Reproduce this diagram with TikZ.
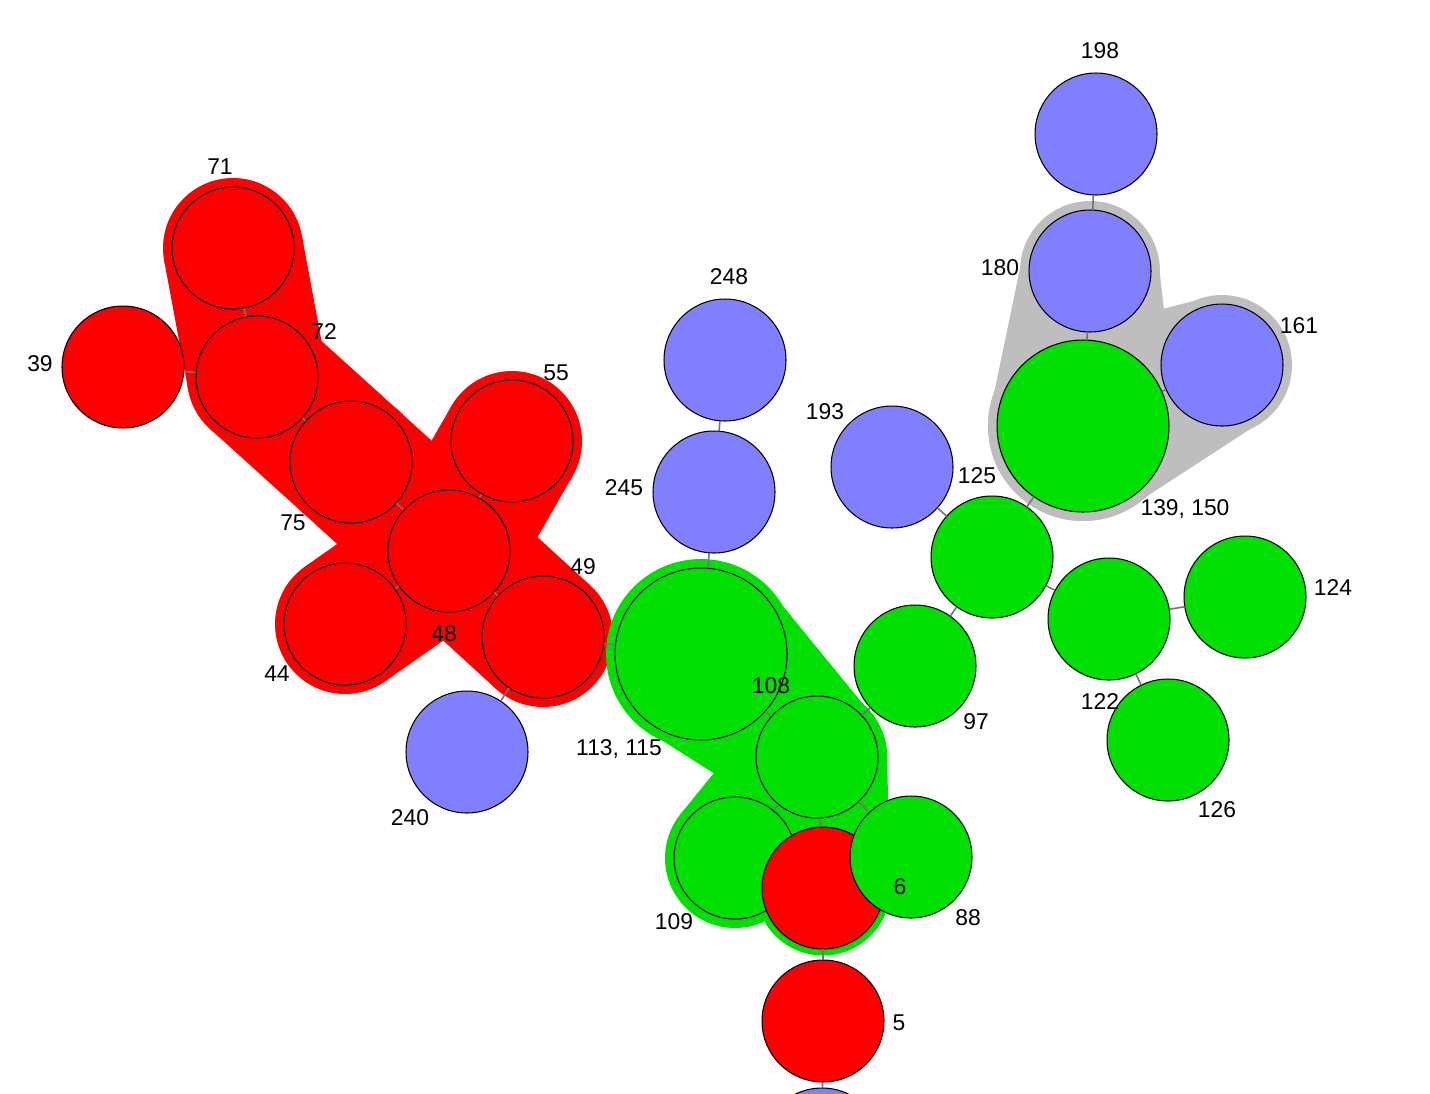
\documentclass[tikz,border=0pt]{standalone}
\usepackage{fontspec}
\setmainfont{Liberation Sans}
\usepackage{tikz}
\usetikzlibrary{calc, backgrounds}
\definecolor{vred}{RGB}{255,0,0}
\definecolor{vgreen}{RGB}{0,224,0}
\definecolor{vblue}{RGB}{128,128,255}
\definecolor{hullgray}{RGB}{190,190,190}
\definecolor{edgegray}{RGB}{115,115,115}
% hull piece between two vertices: from, to, radius at from, radius at to, colour
\newcommand{\hullpart}[5]{%
  \fill[#5] ($(#1.center)!#3!90:(#2.center)$) -- ($(#2.center)!#4!-90:(#1.center)$)
    -- ($(#2.center)!#4!90:(#1.center)$) -- ($(#1.center)!#3!-90:(#2.center)$) -- cycle;
  \fill[#5] (#1.center) circle (#3);
  \fill[#5] (#2.center) circle (#4);
}

\begin{document}
\begin{tikzpicture}[
  x=0.02cm, y=-0.02cm,
  vtx/.style={circle, draw=black, line width=0.6pt, minimum size=2.44cm,
              inner sep=0pt, outer sep=0pt},
  bigvtx/.style={vtx, minimum size=3.44cm},
  edge/.style={draw=edgegray, line width=0.9pt},
  lbl/.style={font=\fontsize{13}{15}\selectfont, inner sep=0pt},
]
\useasboundingbox (0,0) rectangle (1430,1093);

% Blue vertices
\node[vtx, fill=vblue] (v198) at (1096,134) {};
\node[vtx, fill=vblue] (v180) at (1090,271) {};
\node[vtx, fill=vblue] (v161) at (1222,365) {};
\node[vtx, fill=vblue] (v193) at (892,467) {};
\node[vtx, fill=vblue] (v248) at (725,360) {};
\node[vtx, fill=vblue] (v245) at (714,492) {};
\node[vtx, fill=vblue] (v240) at (467,752) {};
\node[vtx, fill=vblue] (vb)   at (822,1149) {};

% Green vertices
\node[bigvtx, fill=vgreen] (v139) at (1083,426) {};
\node[vtx, fill=vgreen] (v125) at (992,557) {};
\node[vtx, fill=vgreen] (v124) at (1245,597) {};
\node[vtx, fill=vgreen] (v122) at (1109,619) {};
\node[vtx, fill=vgreen] (v126) at (1168,740) {};
\node[vtx, fill=vgreen] (v97)  at (915,666) {};
\node[bigvtx, fill=vgreen] (v113) at (701,654) {};
\node[vtx, fill=vgreen] (v108) at (817,757) {};
\node[vtx, fill=vgreen] (v109) at (735,858) {};

% Red vertices (88 lies over 6)
\node[vtx, fill=vred] (v6)  at (823,888) {};
\node[vtx, fill=vgreen] (v88) at (911,857) {};
\node[vtx, fill=vred] (v5)  at (823,1021) {};
\node[vtx, fill=vred] (v44) at (345,624) {};
\node[vtx, fill=vred] (v48) at (449,551) {};
\node[vtx, fill=vred] (v49) at (543,637) {};
\node[vtx, fill=vred] (v55) at (512,441) {};
\node[vtx, fill=vred] (v75) at (351,462) {};
\node[vtx, fill=vred] (v72) at (257,377) {};
\node[vtx, fill=vred] (v71) at (233,248) {};
\node[vtx, fill=vred] (v39) at (123,367) {};

% Group hulls
\begin{scope}[on background layer]
  \hullpart{v71}{v72}{1.4cm}{1.4cm}{vred}
  \hullpart{v72}{v75}{1.4cm}{1.4cm}{vred}
  \hullpart{v75}{v48}{1.4cm}{1.4cm}{vred}
  \hullpart{v48}{v55}{1.4cm}{1.4cm}{vred}
  \hullpart{v48}{v44}{1.4cm}{1.4cm}{vred}
  \hullpart{v48}{v49}{1.4cm}{1.4cm}{vred}
  \hullpart{v113}{v108}{1.9cm}{1.4cm}{vgreen}
  \hullpart{v108}{v109}{1.4cm}{1.4cm}{vgreen}
  \hullpart{v108}{v6}{1.4cm}{1.35cm}{vgreen}
  \hullpart{v180}{v139}{1.4cm}{1.9cm}{hullgray}
  \hullpart{v139}{v161}{1.9cm}{1.4cm}{hullgray}
\end{scope}

% Edges
\draw[edge] (v198) -- (v180);
\draw[edge] (v180) -- (v139);
\draw[edge] (v139) -- (v161);
\draw[edge] (v139) -- (v125);
\draw[edge] (v125) -- (v193);
\draw[edge] (v125) -- (v97);
\draw[edge] (v125) -- (v122);
\draw[edge] (v122) -- (v124);
\draw[edge] (v122) -- (v126);
\draw[edge] (v97) -- (v108);
\draw[edge] (v108) -- (v113);
\draw[edge] (v108) -- (v109);
\draw[edge] (v108) -- (v6);
\draw[edge] (v108) -- (v88);
\draw[edge] (v6) -- (v5);
\draw[edge] (v5) -- (vb);
\draw[edge] (v113) -- (v245);
\draw[edge] (v245) -- (v248);
\draw[edge] (v113) -- (v49);
\draw[edge] (v49) -- (v240);
\draw[edge] (v49) -- (v48);
\draw[edge] (v48) -- (v44);
\draw[edge] (v48) -- (v55);
\draw[edge] (v48) -- (v75);
\draw[edge] (v75) -- (v72);
\draw[edge] (v72) -- (v71);
\draw[edge] (v72) -- (v39);

% Labels
\node[lbl] (l198) at (1100,51)  {198};
\node[lbl] (l180) at (1000,268) {180};
\node[lbl] (l161) at (1299,326) {161};
\node[lbl] (l139) at (1185,509) {139, 150};
\node[lbl] (l193) at (825,412)  {193};
\node[lbl] (l125) at (977,476)  {125};
\node[lbl] (l124) at (1333,588) {124};
\node[lbl] (l122) at (1100,702) {122};
\node[lbl] (l126) at (1217,810) {126};
\node[lbl] (l97)  at (976,722)  {97};
\node[lbl] (l248) at (729,277)  {248};
\node[lbl] (l245) at (624,488)  {245};
\node[lbl] (l113) at (619,749)  {113, 115};
\node[lbl] (l108) at (771,686)  {108};
\node[lbl] (l109) at (674,922)  {109};
\node[lbl] (l6)   at (900,887)  {6};
\node[lbl] (l88)  at (968,918)  {88};
\node[lbl] (l5)   at (899,1023) {5};
\node[lbl] (l240) at (410,818)  {240};
\node[lbl] (l44)  at (277,674)  {44};
\node[lbl] (l48)  at (444,634)  {48};
\node[lbl] (l49)  at (583,567)  {49};
\node[lbl] (l55)  at (556,373)  {55};
\node[lbl] (l75)  at (293,523)  {75};
\node[lbl] (l72)  at (324,332)  {72};
\node[lbl] (l71)  at (220,167)  {71};
\node[lbl] (l39)  at (40,364)   {39};

\end{tikzpicture}
\end{document}
